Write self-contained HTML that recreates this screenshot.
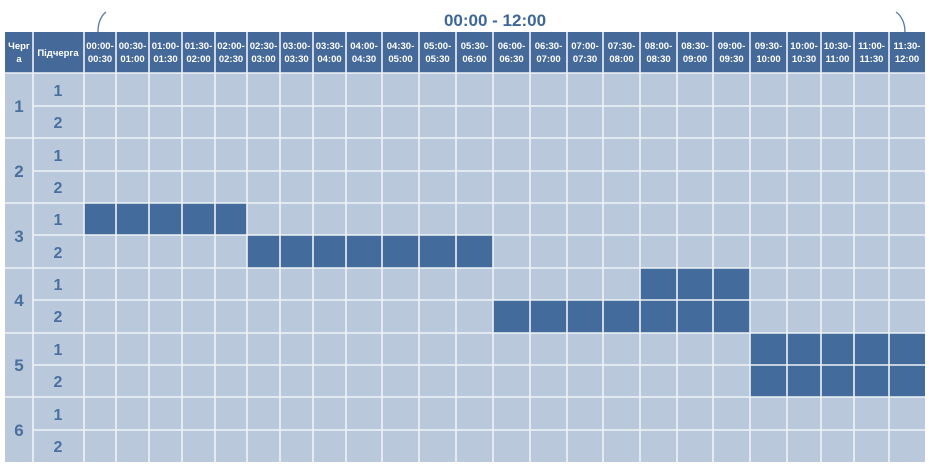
<!DOCTYPE html>
<html><head><meta charset="utf-8"><style>
html,body{margin:0;padding:0;background:#fff;width:929px;height:467px;overflow:hidden}
svg{display:block;font-family:"Liberation Sans",sans-serif}
</style></head><body>
<svg width="929" height="467" viewBox="0 0 929 467">
<text x="495" y="26" text-anchor="middle" font-size="17" font-weight="bold" fill="#3d6699">00:00 - 12:00</text>
<path d="M98,32 C98,22 101,16 106,12" stroke="#5579a6" stroke-width="1.3" fill="none"/>
<path d="M896,12 C902,16 905,24 905,32" stroke="#5579a6" stroke-width="1.3" fill="none"/>
<rect x="5" y="32" width="920" height="41" fill="#456a9a"/>
<rect x="5" y="73" width="920" height="389" fill="#b9c8da"/>
<g fill="#436b9b">
<rect x="84" y="203" width="163" height="32"/>
<rect x="247" y="235" width="246" height="33"/>
<rect x="640" y="268" width="110" height="32"/>
<rect x="493" y="300" width="257" height="33"/>
<rect x="750" y="333" width="175" height="64"/>
</g>
<g stroke="#eef2f8" stroke-width="1.6">
<line x1="33" y1="32" x2="33" y2="462"/>
<line x1="84" y1="32" x2="84" y2="462"/>
<line x1="116" y1="32" x2="116" y2="462"/><line x1="149" y1="32" x2="149" y2="462"/>
<line x1="182" y1="32" x2="182" y2="462"/><line x1="215" y1="32" x2="215" y2="462"/>
<line x1="247" y1="32" x2="247" y2="462"/><line x1="280" y1="32" x2="280" y2="462"/>
<line x1="313" y1="32" x2="313" y2="462"/><line x1="346" y1="32" x2="346" y2="462"/>
<line x1="382" y1="32" x2="382" y2="462"/><line x1="419" y1="32" x2="419" y2="462"/>
<line x1="456" y1="32" x2="456" y2="462"/><line x1="493" y1="32" x2="493" y2="462"/>
<line x1="530" y1="32" x2="530" y2="462"/><line x1="567" y1="32" x2="567" y2="462"/>
<line x1="603" y1="32" x2="603" y2="462"/><line x1="640" y1="32" x2="640" y2="462"/>
<line x1="677" y1="32" x2="677" y2="462"/><line x1="713" y1="32" x2="713" y2="462"/>
<line x1="750" y1="32" x2="750" y2="462"/><line x1="787" y1="32" x2="787" y2="462"/>
<line x1="821" y1="32" x2="821" y2="462"/><line x1="854" y1="32" x2="854" y2="462"/>
<line x1="889" y1="32" x2="889" y2="462"/>
<line x1="5" y1="73" x2="925" y2="73"/>
<line x1="33" y1="106" x2="925" y2="106"/>
<line x1="5" y1="138" x2="925" y2="138"/>
<line x1="33" y1="171" x2="925" y2="171"/>
<line x1="5" y1="203" x2="925" y2="203"/>
<line x1="33" y1="235" x2="925" y2="235"/>
<line x1="5" y1="268" x2="925" y2="268"/>
<line x1="33" y1="300" x2="925" y2="300"/>
<line x1="5" y1="333" x2="925" y2="333"/>
<line x1="33" y1="365" x2="925" y2="365"/>
<line x1="5" y1="397" x2="925" y2="397"/>
<line x1="33" y1="430" x2="925" y2="430"/>
</g>
<g fill="#fff" font-size="9.5" font-weight="bold" text-anchor="middle">
<text x="19" y="49">Черг</text><text x="19" y="62">а</text>
<text x="58" y="56">Підчерга</text>
</g>
<g fill="#fff" font-size="9.5" font-weight="bold" text-anchor="middle">
<text x="100" y="49">00:00-</text><text x="100" y="62">00:30</text>
<text x="132.5" y="49">00:30-</text><text x="132.5" y="62">01:00</text>
<text x="165.5" y="49">01:00-</text><text x="165.5" y="62">01:30</text>
<text x="198.5" y="49">01:30-</text><text x="198.5" y="62">02:00</text>
<text x="231" y="49">02:00-</text><text x="231" y="62">02:30</text>
<text x="263.5" y="49">02:30-</text><text x="263.5" y="62">03:00</text>
<text x="296.5" y="49">03:00-</text><text x="296.5" y="62">03:30</text>
<text x="329.5" y="49">03:30-</text><text x="329.5" y="62">04:00</text>
<text x="364" y="49">04:00-</text><text x="364" y="62">04:30</text>
<text x="400.5" y="49">04:30-</text><text x="400.5" y="62">05:00</text>
<text x="437.5" y="49">05:00-</text><text x="437.5" y="62">05:30</text>
<text x="474.5" y="49">05:30-</text><text x="474.5" y="62">06:00</text>
<text x="511.5" y="49">06:00-</text><text x="511.5" y="62">06:30</text>
<text x="548.5" y="49">06:30-</text><text x="548.5" y="62">07:00</text>
<text x="585" y="49">07:00-</text><text x="585" y="62">07:30</text>
<text x="621.5" y="49">07:30-</text><text x="621.5" y="62">08:00</text>
<text x="658.5" y="49">08:00-</text><text x="658.5" y="62">08:30</text>
<text x="695" y="49">08:30-</text><text x="695" y="62">09:00</text>
<text x="731.5" y="49">09:00-</text><text x="731.5" y="62">09:30</text>
<text x="768.5" y="49">09:30-</text><text x="768.5" y="62">10:00</text>
<text x="804" y="49">10:00-</text><text x="804" y="62">10:30</text>
<text x="837.5" y="49">10:30-</text><text x="837.5" y="62">11:00</text>
<text x="871.5" y="49">11:00-</text><text x="871.5" y="62">11:30</text>
<text x="907" y="49">11:30-</text><text x="907" y="62">12:00</text>
</g>
<g fill="#4a70a0" font-size="17" font-weight="bold" text-anchor="middle">
<text x="19" y="112">1</text><text x="19" y="177">2</text><text x="19" y="242">3</text>
<text x="19" y="306">4</text><text x="19" y="371">5</text><text x="19" y="436">6</text>
</g>
<g fill="#4a70a0" font-size="16" font-weight="bold" text-anchor="middle">
<text x="58" y="96">1</text><text x="58" y="128">2</text>
<text x="58" y="161">1</text><text x="58" y="193">2</text>
<text x="58" y="225">1</text><text x="58" y="258">2</text>
<text x="58" y="290">1</text><text x="58" y="322">2</text>
<text x="58" y="355">1</text><text x="58" y="387">2</text>
<text x="58" y="420">1</text><text x="58" y="452">2</text>
</g>
</svg>
</body></html>
